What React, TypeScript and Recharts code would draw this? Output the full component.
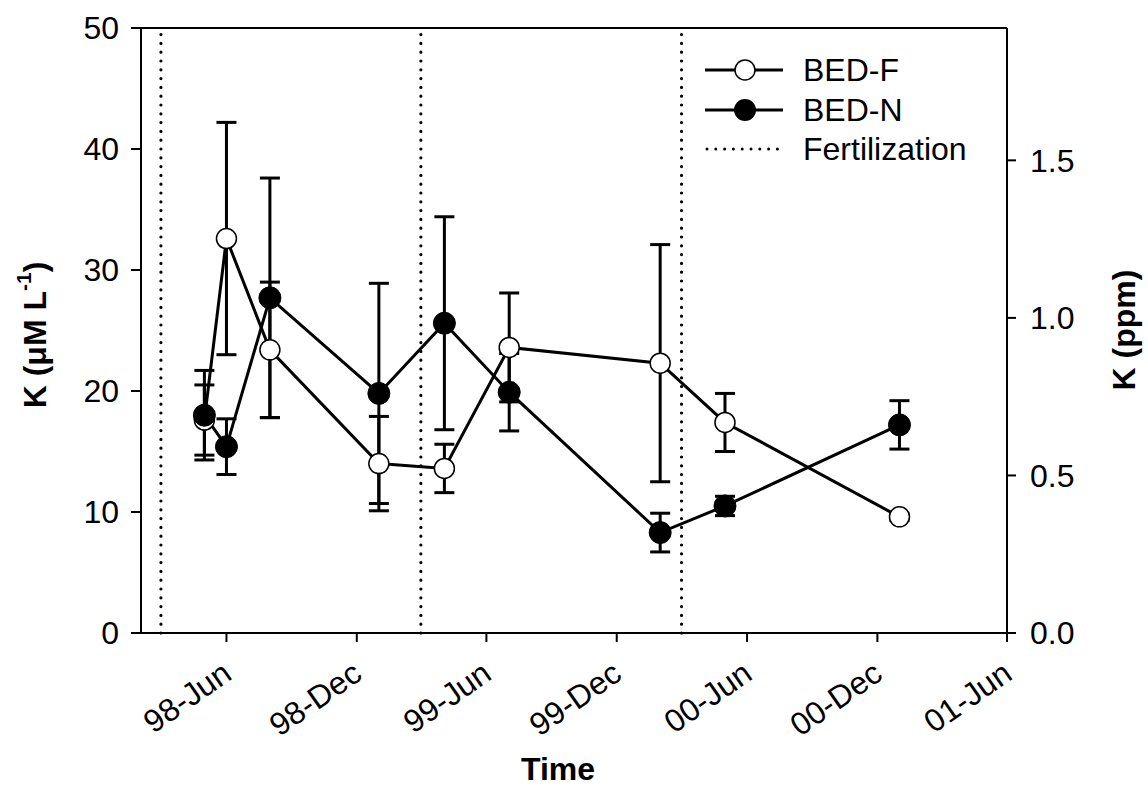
import React from 'react';
import { ComposedChart, Line, XAxis, YAxis, ErrorBar, ReferenceLine, Legend } from 'recharts';

// sampling dates and K concentrations (µM/L), mean ± SE
const sampleDates = ['1998-05-01', '1998-06-01', '1998-08-01', '1999-01-01', '1999-04-03', '1999-07-03', '2000-01-31', '2000-05-01', '2001-01-01'];
const bedF = [17.6, 32.6, 23.4, 14.0, 13.6, 23.6, 22.3, 17.4, 9.6];
const bedFErr = [2.9, 9.6, 5.6, 3.9, 2.0, 4.5, 9.8, 2.4, 0.3];
const bedN = [18.0, 15.4, 27.7, 19.8, 25.6, 19.9, 8.3, 10.5, 17.2];
const bedNErr = [3.7, 2.3, 9.9, 9.1, 8.8, 3.2, 1.6, 0.8, 2.0];

const fertilizationDates = ['1998-03-01', '1999-03-01', '2000-03-01'];
const timeTicks = ['1998-06-01', '1998-12-01', '1999-06-01', '1999-12-01', '2000-06-01', '2000-12-01', '2001-06-01'];
const timeRange = ['1998-02-01', '2001-06-01'];
const kTicks = [0, 10, 20, 30, 40, 50];
const ppmTicks = [0, 0.5, 1.0, 1.5];

const MONTHS = ['Jan', 'Feb', 'Mar', 'Apr', 'May', 'Jun', 'Jul', 'Aug', 'Sep', 'Oct', 'Nov', 'Dec'];
const FONT = '"Liberation Sans", Arial, sans-serif';
const FS = 32;

const toTime = (s: string) => new Date(s + 'T00:00:00Z').getTime();
const fmtDate = (t: number) => {
  const d = new Date(t);
  return `${String(d.getUTCFullYear()).slice(2)}-${MONTHS[d.getUTCMonth()]}`;
};

const data = sampleDates.map((d, i) => ({
  t: toTime(d),
  bedF: bedF[i],
  bedFErr: bedFErr[i],
  bedN: bedN[i],
  bedNErr: bedNErr[i],
}));

const DateTick = (props: any) => {
  const { x, y, payload } = props;
  const ax = x + 7;
  const ay = y + 36;
  return (
    <text x={ax} y={ay} textAnchor="end" transform={`rotate(-35 ${ax} ${ay})`} fontSize={FS} fontFamily={FONT} fill="#000">
      {fmtDate(payload.value)}
    </text>
  );
};

const KTitle = () => (
  <text x={35} y={335} transform="rotate(-90 35 335)" textAnchor="middle" dominantBaseline="central" fontSize={FS} fontWeight="bold" fontFamily={FONT} fill="#000">
    K (μM L<tspan dy={-12} fontSize={21}>-1</tspan><tspan dy={12}>)</tspan>
  </text>
);

const PpmTitle = () => (
  <text x={1124} y={330} transform="rotate(-90 1124 330)" textAnchor="middle" dominantBaseline="central" fontSize={FS} fontWeight="bold" fontFamily={FONT} fill="#000">
    K (ppm)
  </text>
);

const TimeTitle = () => (
  <text x={558} y={780} textAnchor="middle" fontSize={FS} fontWeight="bold" fontFamily={FONT} fill="#000">
    Time
  </text>
);

const LegendBox = () => (
  <svg width={300} height={120} style={{ display: 'block' }}>
    <line x1={5} x2={83} y1={20} y2={20} stroke="#000" strokeWidth={3} />
    <circle cx={45} cy={20} r={10} fill="#fff" stroke="#000" strokeWidth={1.5} />
    <text x={103} y={20} dominantBaseline="central" fontSize={FS} fontFamily={FONT} fill="#000">BED-F</text>
    <line x1={5} x2={83} y1={60} y2={60} stroke="#000" strokeWidth={3} />
    <circle cx={45} cy={60} r={11} fill="#000" />
    <text x={103} y={60} dominantBaseline="central" fontSize={FS} fontFamily={FONT} fill="#000">BED-N</text>
    <line x1={7} x2={83} y1={99} y2={99} stroke="#000" strokeWidth={3} strokeDasharray="0 8.8" strokeLinecap="round" />
    <text x={103} y={99} dominantBaseline="central" fontSize={FS} fontFamily={FONT} fill="#000">Fertilization</text>
  </svg>
);

const axisStroke = { stroke: '#000', strokeWidth: 2 };
const tickFont = { fill: '#000', fontSize: FS, fontFamily: FONT };

export default function App() {
  return (
    <div style={{ position: 'absolute', left: 0, top: 0 }}>
      <ComposedChart width={1148} height={786} data={data} margin={{ top: 28, right: 0, bottom: 0, left: 0 }}>
        <XAxis
          dataKey="t"
          type="number"
          scale="linear"
          domain={timeRange.map(toTime)}
          ticks={timeTicks.map(toTime)}
          tick={<DateTick />}
          tickSize={9}
          tickMargin={0}
          height={153}
          axisLine={axisStroke}
          tickLine={axisStroke}
          interval={0}
          label={<TimeTitle />}
        />
        <YAxis
          yAxisId="left"
          domain={[0, 50]}
          ticks={kTicks}
          width={141}
          tickSize={10}
          tickMargin={12}
          tick={tickFont}
          axisLine={axisStroke}
          tickLine={axisStroke}
          interval={0}
          label={<KTitle />}
        />
        <YAxis
          yAxisId="right"
          orientation="right"
          domain={[0, 1.92]}
          allowDataOverflow
          ticks={ppmTicks}
          tickFormatter={(v: number) => v.toFixed(1)}
          width={141}
          tickSize={9}
          tickMargin={14}
          tick={{ ...tickFont, textAnchor: 'start' }}
          axisLine={axisStroke}
          tickLine={axisStroke}
          interval={0}
          label={<PpmTitle />}
        />
        <ReferenceLine yAxisId="left" y={50} stroke="#000" strokeWidth={2} />
        {fertilizationDates.map((d) => (
          <ReferenceLine
            key={d}
            yAxisId="left"
            x={toTime(d)}
            stroke="#000"
            strokeWidth={3.2}
            strokeDasharray="0 8.8"
            strokeLinecap="round"
          />
        ))}
        <Legend
          layout="vertical"
          align="center"
          verticalAlign="middle"
          wrapperStyle={{ position: 'absolute', left: 700, top: 50, width: 300 }}
          content={<LegendBox />}
        />
        <Line
          yAxisId="left"
          dataKey="bedF"
          name="BED-F"
          stroke="#000"
          strokeWidth={3}
          dot={{ r: 10, fill: '#fff', stroke: '#000', strokeWidth: 1.5 }}
          activeDot={false}
          isAnimationActive={false}
        >
          <ErrorBar dataKey="bedFErr" direction="y" width={10} stroke="#000" strokeWidth={3} isAnimationActive={false} />
        </Line>
        <Line
          yAxisId="left"
          dataKey="bedN"
          name="BED-N"
          stroke="#000"
          strokeWidth={3}
          dot={{ r: 11, fill: '#000', stroke: '#000', strokeWidth: 1 }}
          activeDot={false}
          isAnimationActive={false}
        >
          <ErrorBar dataKey="bedNErr" direction="y" width={10} stroke="#000" strokeWidth={3} isAnimationActive={false} />
        </Line>
      </ComposedChart>
    </div>
  );
}
